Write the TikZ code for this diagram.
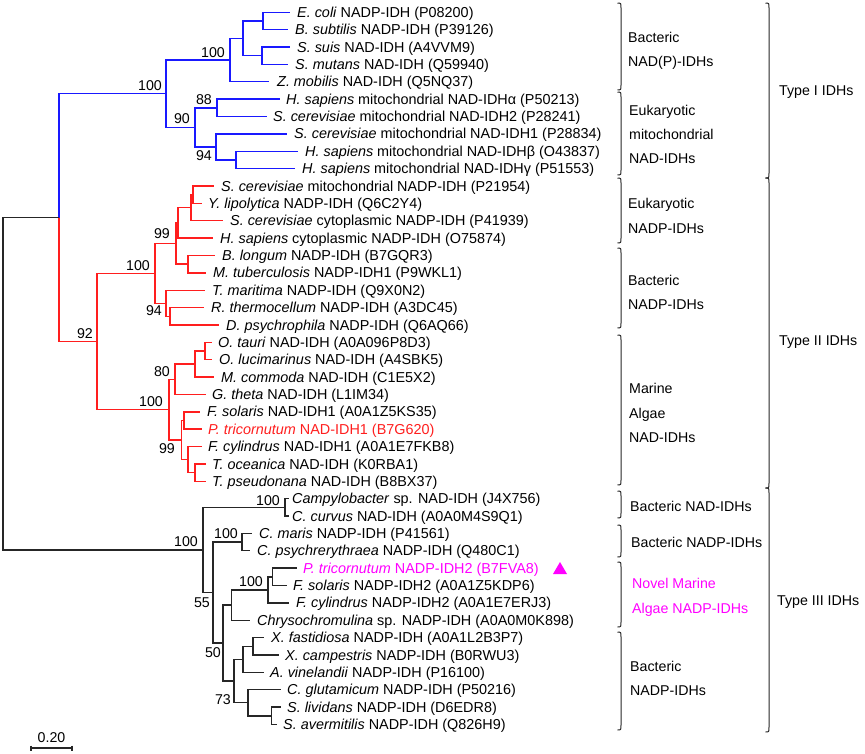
\documentclass[tikz,border=0pt]{standalone}
\usepackage{fontspec}
\setmainfont{Liberation Sans}
\definecolor{myblue}{RGB}{25,25,255}
\definecolor{myred}{RGB}{255,30,30}
\definecolor{mymag}{RGB}{255,0,255}
\newcommand\lblfont{\fontsize{14.2}{17}\selectfont}
\newcommand\leaffont{\fontsize{14.4}{17}\selectfont}
\newcommand\leafitem[6]{%
  \coordinate (#1e) at (#3,#2);
  \node[leaf,text=#5] (#1) at (#4,#2) {#6};}
\newcommand\rbr[3]{\draw[brc] ({#1-3.5},{#2}) .. controls ({#1},{#2}) .. ({#1},{#2+5}) -- ({#1},{#3-5}) .. controls ({#1},{#3}) .. ({#1-3.5},{#3});}
\begin{document}
\begin{tikzpicture}[x=1pt,y=-1pt,
  br/.style={line width=1.4pt},
  bl/.style={br,draw=myblue},
  rd/.style={br,draw=myred},
  bk/.style={br,draw=black!85},
  leaf/.style={anchor=west,inner sep=0pt,font=\leaffont,text height=10.2pt,text depth=0pt},
  bs/.style={anchor=east,inner sep=0pt,font=\lblfont,text height=10.2pt,text depth=0pt},
  grp/.style={anchor=west,inner sep=0pt,font=\lblfont,text height=10.2pt,text depth=0pt},
  brc/.style={line width=1pt,draw=black!85}]
\useasboundingbox (0,0) rectangle (865,753);

% ---- leaves
\leafitem{l1}{12.3}{290}{297}{black}{\textit{E. coli} NADP-IDH (P08200)}
\leafitem{l2}{29.67}{288}{295}{black}{\textit{B. subtilis} NADP-IDH (P39126)}
\leafitem{l3}{47.04}{290}{297}{black}{\textit{S. suis} NAD-IDH (A4VVM9)}
\leafitem{l4}{64.41}{288}{295}{black}{\textit{S. mutans} NAD-IDH (Q59940)}
\leafitem{l5}{81.78}{269}{277}{black}{\textit{Z. mobilis} NAD-IDH (Q5NQ37)}
\leafitem{l6}{99.15}{280}{286}{black}{\textit{H. sapiens} mitochondrial NAD-IDHα (P50213)}
\leafitem{l7}{116.52}{267}{273}{black}{\textit{S. cerevisiae} mitochondrial NAD-IDH2 (P28241)}
\leafitem{l8}{133.89}{287}{294}{black}{\textit{S. cerevisiae} mitochondrial NAD-IDH1 (P28834)}
\leafitem{l9}{151.26}{298}{305}{black}{\textit{H. sapiens} mitochondrial NAD-IDHβ (O43837)}
\leafitem{l10}{168.63}{295}{302}{black}{\textit{H. sapiens} mitochondrial NAD-IDHγ (P51553)}
\leafitem{l11}{186.0}{214}{221}{black}{\textit{S. cerevisiae} mitochondrial NADP-IDH (P21954)}
\leafitem{l12}{203.37}{202}{208}{black}{\textit{Y. lipolytica} NADP-IDH (Q6C2Y4)}
\leafitem{l13}{220.74}{223}{230}{black}{\textit{S. cerevisiae} cytoplasmic NADP-IDH (P41939)}
\leafitem{l14}{238.11}{213}{220}{black}{\textit{H. sapiens} cytoplasmic NADP-IDH (O75874)}
\leafitem{l15}{255.48}{215}{222}{black}{\textit{B. longum} NADP-IDH (B7GQR3)}
\leafitem{l16}{272.85}{206}{213}{black}{\textit{M. tuberculosis} NADP-IDH1 (P9WKL1)}
\leafitem{l17}{290.22}{205}{212}{black}{\textit{T. maritima} NADP-IDH (Q9X0N2)}
\leafitem{l18}{307.59}{204}{211}{black}{\textit{R. thermocellum} NADP-IDH (A3DC45)}
\leafitem{l19}{324.96}{219}{226}{black}{\textit{D. psychrophila} NADP-IDH (Q6AQ66)}
\leafitem{l20}{342.33}{212}{218}{black}{\textit{O. tauri} NAD-IDH (A0A096P8D3)}
\leafitem{l21}{359.7}{212}{219}{black}{\textit{O. lucimarinus} NAD-IDH (A4SBK5)}
\leafitem{l22}{377.07}{214}{221}{black}{\textit{M. commoda} NAD-IDH (C1E5X2)}
\leafitem{l23}{394.44}{206}{212}{black}{\textit{G. theta} NAD-IDH (L1IM34)}
\leafitem{l24}{411.81}{200}{207}{black}{\textit{F. solaris} NAD-IDH1 (A0A1Z5KS35)}
\leafitem{l25}{429.18}{202}{208}{myred}{\textit{P. tricornutum} NAD-IDH1 (B7G620)}
\leafitem{l26}{446.55}{202}{208}{black}{\textit{F. cylindrus} NAD-IDH1 (A0A1E7FKB8)}
\leafitem{l27}{463.92}{206}{212}{black}{\textit{T. oceanica} NAD-IDH (K0RBA1)}
\leafitem{l28}{481.29}{206}{212}{black}{\textit{T. pseudonana} NAD-IDH (B8BX37)}
\leafitem{l29}{498.66}{289}{292}{black}{\textit{Campylobacter} sp. NAD-IDH (J4X756)}
\leafitem{l30}{516.03}{289}{292}{black}{\textit{C. curvus} NAD-IDH (A0A0M4S9Q1)}
\leafitem{l31}{533.4}{252}{259}{black}{\textit{C. maris} NADP-IDH (P41561)}
\leafitem{l32}{550.77}{250}{257}{black}{\textit{C. psychrerythraea} NADP-IDH (Q480C1)}
\leafitem{l33}{568.14}{297}{303}{mymag}{\textit{P. tricornutum} NADP-IDH2 (B7FVA8)}
\leafitem{l34}{585.51}{287}{293}{black}{\textit{F. solaris} NADP-IDH2 (A0A1Z5KDP6)}
\leafitem{l35}{602.88}{289}{296}{black}{\textit{F. cylindrus} NADP-IDH2 (A0A1E7ERJ3)}
\leafitem{l36}{620.25}{250}{257}{black}{\textit{Chrysochromulina} sp. NADP-IDH (A0A0M0K898)}
\leafitem{l37}{637.62}{264}{271}{black}{\textit{X. fastidiosa} NADP-IDH (A0A1L2B3P7)}
\leafitem{l38}{654.99}{279}{285}{black}{\textit{X. campestris} NADP-IDH (B0RWU3)}
\leafitem{l39}{672.36}{264}{270}{black}{\textit{A. vinelandii} NADP-IDH (P16100)}
\leafitem{l40}{689.73}{281}{287}{black}{\textit{C. glutamicum} NADP-IDH (P50216)}
\leafitem{l41}{707.1}{281}{287}{black}{\textit{S. lividans} NADP-IDH (D6EDR8)}
\leafitem{l42}{724.47}{277}{283}{black}{\textit{S. avermitilis} NADP-IDH (Q826H9)}

% ---- internal nodes
\coordinate (root) at (3,383.8);
\coordinate (nA) at (59,217.6);
\coordinate (nB) at (166,93.73);
\coordinate (nC) at (230,60.07);
\coordinate (nD) at (243,38.36);
\coordinate (nD1) at (263,20.99);
\coordinate (nD2) at (262,55.73);
\coordinate (nE) at (195,127.38);
\coordinate (nF) at (217,107.84);
\coordinate (nG) at (216,146.92);
\coordinate (nH) at (236,159.95);
\coordinate (nI) at (97,341.52);
\coordinate (nJ) at (155,273.39);
\coordinate (nK) at (176,243.54);
\coordinate (nK2) at (178,222.91);
\coordinate (nL) at (191,207.71);
\coordinate (nM) at (193,194.69);
\coordinate (nN) at (188,264.17);
\coordinate (nO) at (166,303.25);
\coordinate (nP) at (170,316.28);
\coordinate (nQ) at (169,409.64);
\coordinate (nR) at (175,379.24);
\coordinate (nS) at (195,364.04);
\coordinate (nT) at (205,351.02);
\coordinate (nX) at (181.5,440.04);
\coordinate (nU) at (184,420.5);
\coordinate (nW) at (188,459.58);
\coordinate (nV) at (195,472.6);
\coordinate (nY) at (203,549.96);
\coordinate (nZ) at (285,507.35);
\coordinate (nAA) at (213,592.57);
\coordinate (nBB) at (242,542.09);
\coordinate (nKK) at (223,643.05);
\coordinate (nFF) at (231.5,605.05);
\coordinate (nEE) at (268,589.85);
\coordinate (nDD) at (272.5,576.83);
\coordinate (nJJ) at (234,681.04);
\coordinate (nGG) at (243,659.33);
\coordinate (nXX) at (253,646.3);
\coordinate (nHH) at (248,702.76);
\coordinate (nII) at (271.5,715.79);

% ---- blue (Type I)
\draw[bl] (nA) |- (nB);
\draw[bl] (nB) |- (nC); \draw[bl] (nB) |- (nE);
\draw[bl] (nC) |- (nD); \draw[bl] (nC) |- (l5e);
\draw[bl] (nD) |- (nD1); \draw[bl] (nD) |- (nD2);
\draw[bl] (nD1) |- (l1e); \draw[bl] (nD1) |- (l2e);
\draw[bl] (nD2) |- (l3e); \draw[bl] (nD2) |- (l4e);
\draw[bl] (nE) |- (nF); \draw[bl] (nE) |- (nG);
\draw[bl] (nF) |- (l6e); \draw[bl] (nF) |- (l7e);
\draw[bl] (nG) |- (l8e); \draw[bl] (nG) |- (nH);
\draw[bl] (nH) |- (l9e); \draw[bl] (nH) |- (l10e);

% ---- red (Type II)
\draw[rd] (nA) |- (nI);
\draw[rd] (nI) |- (nJ); \draw[rd] (nI) |- (nQ);
\draw[rd] (nJ) |- (nK); \draw[rd] (nJ) |- (nO);
\draw[rd] (nK) |- (nK2); \draw[rd] (nK) |- (nN);
\draw[rd] (nK2) |- (nL); \draw[rd] (nK2) |- (l14e);
\draw[rd] (nL) |- (nM); \draw[rd] (nL) |- (l13e);
\draw[rd] (nM) |- (l11e); \draw[rd] (nM) |- (l12e);
\draw[rd] (nN) |- (l15e); \draw[rd] (nN) |- (l16e);
\draw[rd] (nO) |- (l17e); \draw[rd] (nO) |- (nP);
\draw[rd] (nP) |- (l18e); \draw[rd] (nP) |- (l19e);
\draw[rd] (nQ) |- (nR); \draw[rd] (nQ) |- (nX);
\draw[rd] (nR) |- (nS); \draw[rd] (nR) |- (l23e);
\draw[rd] (nS) |- (nT); \draw[rd] (nS) |- (l22e);
\draw[rd] (nT) |- (l20e); \draw[rd] (nT) |- (l21e);
\draw[rd] (nX) |- (nU); \draw[rd] (nX) |- (nW);
\draw[rd] (nU) |- (l24e); \draw[rd] (nU) |- (l25e);
\draw[rd] (nW) |- (l26e); \draw[rd] (nW) |- (nV);
\draw[rd] (nV) |- (l27e); \draw[rd] (nV) |- (l28e);

% ---- black (root, Type III)
\draw[bk] (root) |- (nA); \draw[bk] (root) |- (nY);
\draw[bk] (nY) |- (nZ); \draw[bk] (nY) |- (nAA);
\draw[bk] (nZ) |- (l29e); \draw[bk] (nZ) |- (l30e);
\draw[bk] (nAA) |- (nBB); \draw[bk] (nAA) |- (nKK);
\draw[bk] (nBB) |- (l31e); \draw[bk] (nBB) |- (l32e);
\draw[bk] (nKK) |- (nFF); \draw[bk] (nKK) |- (nJJ);
\draw[bk] (nFF) |- (nEE); \draw[bk] (nFF) |- (l36e);
\draw[bk] (nEE) |- (nDD); \draw[bk] (nEE) |- (l35e);
\draw[bk] (nDD) |- (l33e); \draw[bk] (nDD) |- (l34e);
\draw[bk] (nJJ) |- (nGG); \draw[bk] (nJJ) |- (nHH);
\draw[bk] (nGG) |- (nXX); \draw[bk] (nGG) |- (l39e);
\draw[bk] (nXX) |- (l37e); \draw[bk] (nXX) |- (l38e);
\draw[bk] (nHH) |- (l40e); \draw[bk] (nHH) |- (nII);
\draw[bk] (nII) |- (l41e); \draw[bk] (nII) |- (l42e);

% ---- bootstrap values
\node[bs] (b1) at (162,85) {100};
\node[bs] (b2) at (225,52) {100};
\node[bs] (b3) at (190,118) {90};
\node[bs] (b4) at (212,99) {88};
\node[bs] (b5) at (212,155) {94};
\node[bs] (b6) at (93,333) {92};
\node[bs] (b7) at (150,265) {100};
\node[bs] (b8) at (170,233) {99};
\node[bs] (b9) at (162,310) {94};
\node[bs] (b10) at (170,371) {80};
\node[bs] (b11) at (163,401) {100};
\node[bs] (b12) at (175,448) {99};
\node[bs] (b13) at (198,541) {100};
\node[bs] (b14) at (280,500) {100};
\node[bs] (b15) at (238,533) {100};
\node[bs] (b16) at (210,602) {55};
\node[bs] (b17) at (263,581) {100};
\node[bs] (b18) at (221,652) {50};
\node[bs] (b19) at (231,699) {73};

% ---- marker
\fill[mymag] (553,574) -- (567,574) -- (560,562) -- cycle;

% ---- braces
\rbr{621}{3}{90}
\rbr{621}{92}{175}
\rbr{621}{178}{243}
\rbr{621}{248}{328}
\rbr{621}{335}{485}
\rbr{621}{491}{518}
\rbr{621}{525}{557}
\rbr{621}{562}{627}
\rbr{621}{632}{730}
\rbr{769}{3}{178}
\rbr{769}{178}{488}
\rbr{769}{488}{732}

% ---- group labels
\node[grp] (g1a) at (628,37) {Bacteric};
\node[grp] (g1b) at (628,61) {NAD(P)-IDHs};
\node[grp] (g2a) at (629,110) {Eukaryotic};
\node[grp] (g2b) at (629,134) {mitochondrial};
\node[grp] (g2c) at (629,158) {NAD-IDHs};
\node[grp] (g3a) at (628,203) {Eukaryotic};
\node[grp] (g3b) at (628,228) {NADP-IDHs};
\node[grp] (g4a) at (628,280) {Bacteric};
\node[grp] (g4b) at (628,304) {NADP-IDHs};
\node[grp] (g5a) at (629,388) {Marine};
\node[grp] (g5b) at (629,413) {Algae};
\node[grp] (g5c) at (629,437) {NAD-IDHs};
\node[grp] (g6) at (630,506) {Bacteric NAD-IDHs};
\node[grp] (g7) at (631,542) {Bacteric NADP-IDHs};
\node[grp,text=mymag] (g8a) at (632,583) {Novel Marine};
\node[grp,text=mymag] (g8b) at (632,608) {Algae NADP-IDHs};
\node[grp] (g9a) at (630,666) {Bacteric};
\node[grp] (g9b) at (630,690) {NADP-IDHs};
\node[grp] (t1) at (779,90) {Type I IDHs};
\node[grp] (t2) at (779,340) {Type II IDHs};
\node[grp] (t3) at (777,600) {Type III IDHs};

% ---- scale bar
\coordinate (sbL) at (31,748);
\coordinate (sbR) at (72,748);
\draw[bk,line width=1.1pt] (sbL) -- (sbR);
\draw[bk,line width=1.1pt] (31,745.5) -- (31,750.5);
\draw[bk,line width=1.1pt] (72,745.5) -- (72,750.5);
\node[anchor=center,inner sep=0pt,font=\lblfont,text height=10.2pt,text depth=0pt] (sbt) at (51.5,737.5) {0.20};
\end{tikzpicture}
\end{document}
